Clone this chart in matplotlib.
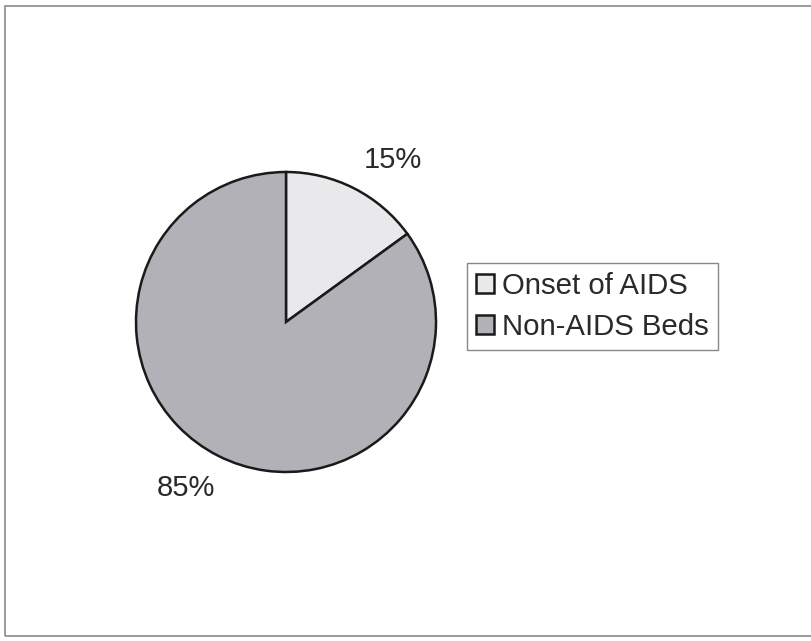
import matplotlib
matplotlib.use("Agg")
import matplotlib.pyplot as plt
from matplotlib.patches import Rectangle

categories = ["Onset of AIDS", "Non-AIDS Beds"]
values = [15, 85]
colors = ["#e9e9eb", "#b3b1b8"]

plt.rcParams['font.family'] = ['Liberation Sans', 'DejaVu Sans']

fig = plt.figure(figsize=(8.12, 6.41), dpi=100)
fig.patch.set_facecolor("white")

# outer frame around the chart area
fig.add_artist(Rectangle((5 / 812, 5 / 641), 1.0, 630 / 641,
                         transform=fig.transFigure, fill=False,
                         edgecolor="#8a8a8a", linewidth=1.2))

ax = fig.add_axes([133 / 812, 166 / 641, 306 / 812, 306 / 641])
wedges, texts, autotexts = ax.pie(
    values, colors=colors, startangle=90, counterclock=False,
    radius=1.0, autopct=lambda p: f"{p:.0f}%", pctdistance=1.29,
    wedgeprops=dict(edgecolor="#1a1a1a", linewidth=1.8),
    textprops=dict(fontsize=21, color="#2a2a2a"))
ax.set_xlim(-1.02, 1.02)
ax.set_ylim(-1.02, 1.02)
ax.set_aspect("equal")

# label placement
autotexts[0].set_position((0.71, 1.08))
autotexts[1].set_position((-0.667, -1.107))

leg = fig.legend(wedges, categories, loc="upper left",
                 bbox_to_anchor=(467 / 812, 1 - 263 / 641),
                 fontsize=21.2, frameon=True, fancybox=False,
                 edgecolor="#6a6a6a", borderpad=0.3,
                 handlelength=0.6, handleheight=0.6,
                 handletextpad=0.3, labelspacing=0.45,
                 borderaxespad=0)
leg.get_frame().set_linewidth(1.0)
for t in leg.get_texts():
    t.set_color("#2a2a2a")

fig.savefig("out.png", dpi=100, facecolor="white")
